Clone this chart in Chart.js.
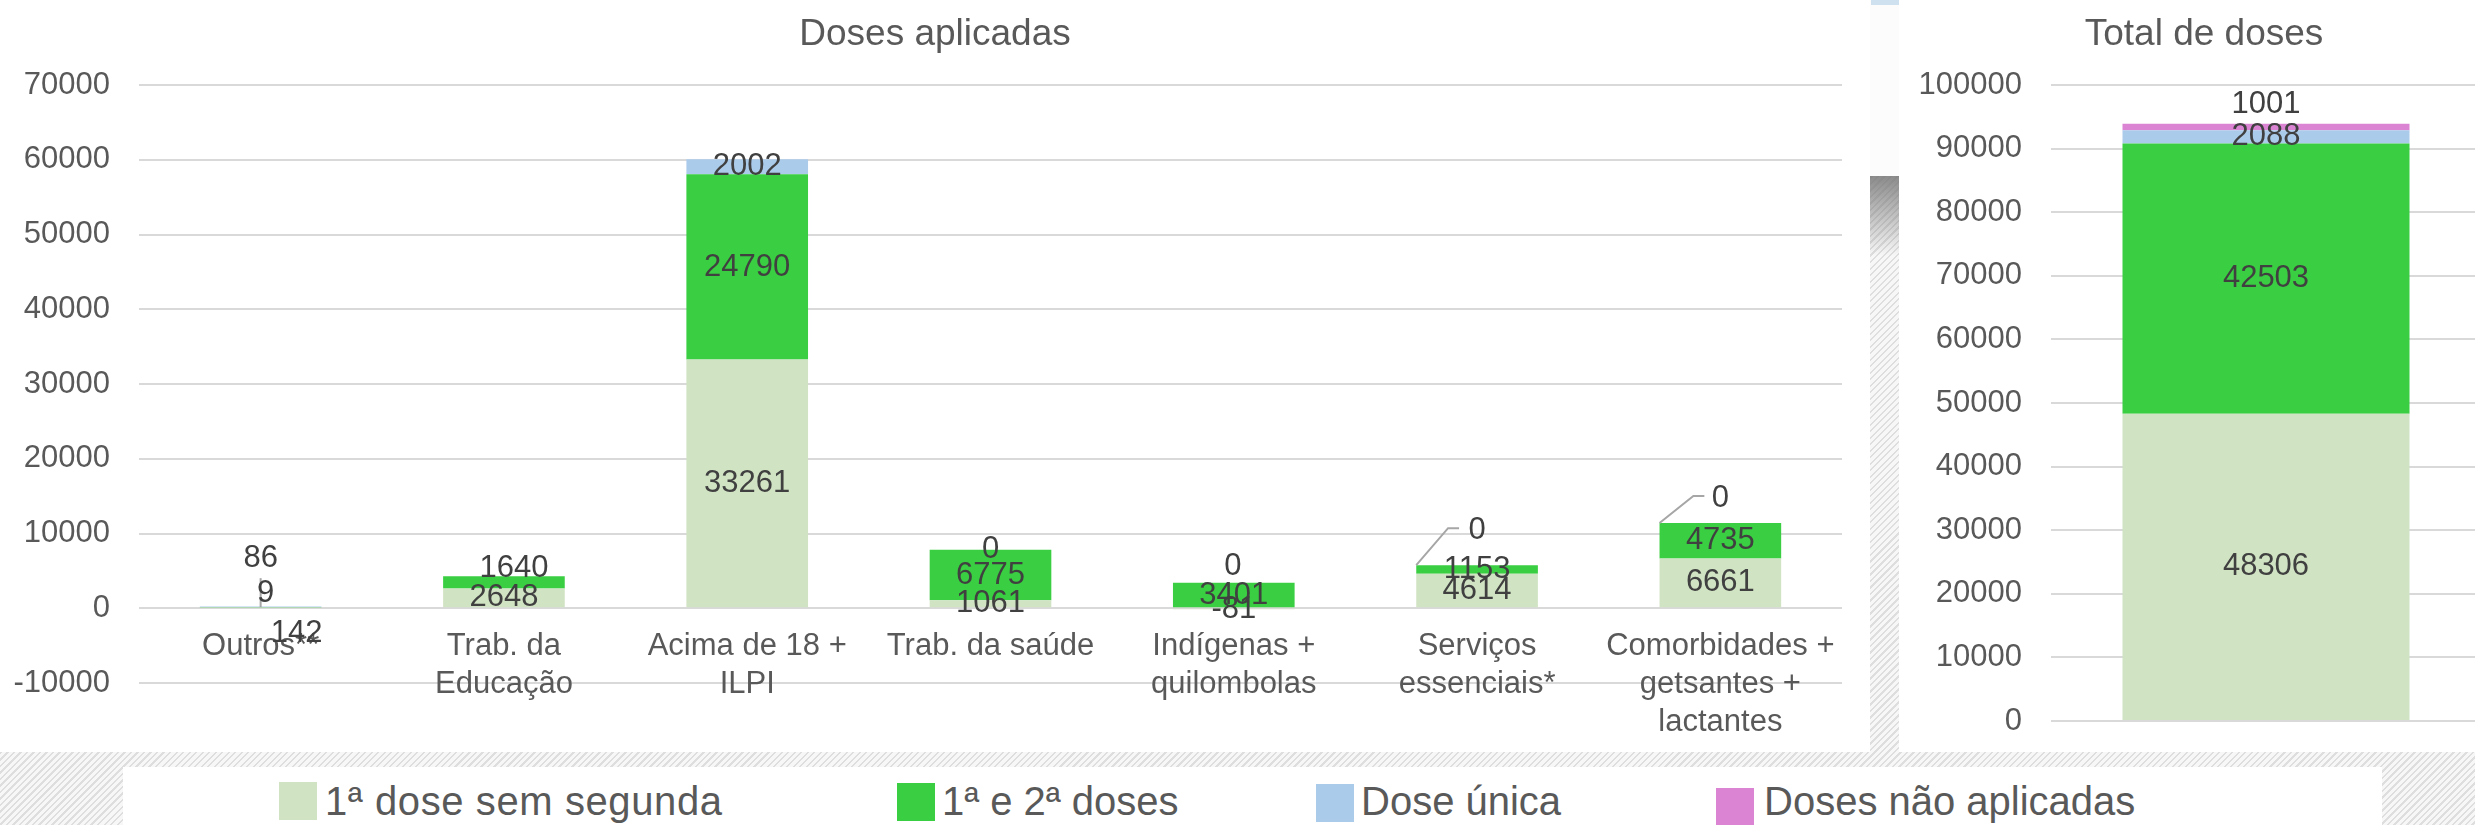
<!DOCTYPE html>
<html>
<head>
<meta charset="utf-8">
<script src="https://cdn.jsdelivr.net/npm/chart.js@4.4.1/dist/chart.umd.min.js"></script>
<style>
html,body{margin:0;padding:0;}
body{width:2475px;height:825px;overflow:hidden;position:relative;
  background:repeating-linear-gradient(135deg,#f7f7f7 0px,#f7f7f7 3px,#dedede 3px,#dedede 4.6px);
  font-family:"Liberation Sans",Arial,sans-serif;}
.panel{position:absolute;background:#ffffff;}
canvas{position:absolute;top:0;}
.lg-sq{position:absolute;width:38px;height:38px;}
.lg-tx{position:absolute;font-size:40px;line-height:40px;color:#595959;white-space:nowrap;}
</style>
</head>
<body>
<div class="panel" style="left:0;top:0;width:1870px;height:752px;"></div>
<div class="panel" style="left:1899px;top:0;width:576px;height:752px;"></div>
<div class="panel" style="left:1870px;top:0;width:29px;height:176px;background:#fcfcfc;"></div>
<div class="panel" style="left:1871px;top:0;width:28px;height:5px;background:#cfe0ee;"></div>
<div class="panel" style="left:1870px;top:176px;width:29px;height:80px;background:linear-gradient(to bottom,rgba(120,120,120,0.85),rgba(120,120,120,0));"></div>
<div class="panel" style="left:123px;top:767px;width:2259px;height:58px;"></div>
<canvas id="left" width="1870" height="752" style="left:0;"></canvas>
<canvas id="right" width="582" height="752" style="left:1899px;"></canvas>
<div id="legend"></div>
<script>
// ---------- data ----------
const categories = [
  ["Outros**"],
  ["Trab. da", "Educação"],
  ["Acima de 18 +", "ILPI"],
  ["Trab. da saúde"],
  ["Indígenas +", "quilombolas"],
  ["Serviços", "essenciais*"],
  ["Comorbidades +", "getsantes +", "lactantes"]
];
const seriesNames = ["1ª dose sem segunda", "1ª e 2ª doses", "Dose única", "Doses não aplicadas"];
const primeiraSemSegunda = [142, 2648, 33261, 1061, -81, 4614, 6661];
const primeiraESegunda   = [9, 1640, 24790, 6775, 3401, 1153, 4735];
const doseUnica          = [86, null, 2002, null, null, null, null];
const dosesNaoAplicadas  = [null, null, null, 0, 0, 0, 0];

const totalCategory = ["Total"];
const totalPrimeiraSemSegunda = [48306];
const totalPrimeiraESegunda   = [42503];
const totalDoseUnica          = [2088];
const totalNaoAplicadas       = [1001];

const leftTitle = "Doses aplicadas";
const rightTitle = "Total de doses";
const leftAxis = { min: -10000, max: 70000, step: 10000 };
const rightAxis = { min: 0, max: 100000, step: 10000 };

// ---------- styles ----------
const seriesColors = ["#d0e3c3", "#3acf42", "#abcbeb", "#dc84d4"];
const FONT = '"Liberation Sans", Arial, sans-serif';
const TEXT = "#595959";
const LABEL = "#404040";
const GRID = "#d9d9d9";

Chart.defaults.font.family = FONT;
Chart.defaults.color = TEXT;

// data label plugin: centred in each stacked segment, with optional nudges/leaders
const segLabels = {
  id: "segLabels",
  afterDatasetsDraw(chart, args, opts) {
    const ctx = chart.ctx;
    const nudges = opts.nudges || {};
    ctx.save();
    ctx.font = "31px " + FONT;
    ctx.textAlign = "center";
    ctx.textBaseline = "middle";
    chart.data.datasets.forEach((ds, di) => {
      const meta = chart.getDatasetMeta(di);
      meta.data.forEach((el, i) => {
        const v = ds.data[i];
        if (v === null || v === undefined) return;
        const n = nudges[di + ":" + i] || {};
        const cx = el.x + (n.dx || 0);
        const cy = (el.y + el.base) / 2 + (n.dy || 0);
        if (n.leader) {
          ctx.strokeStyle = "#a6a6a6";
          ctx.lineWidth = 2;
          ctx.beginPath();
          const sx = n.leader.from === "left" ? el.x - el.width / 2 : el.x;
          ctx.moveTo(sx, el.y);
          n.leader.pts.forEach(p => ctx.lineTo(cx + p[0], cy + p[1]));
          ctx.stroke();
        }
        ctx.fillStyle = LABEL;
        ctx.fillText(String(v), cx, cy);
      });
    });
    ctx.restore();
  }
};

function makeDatasets(arrays) {
  return arrays.map((arr, k) => ({
    label: seriesNames[k],
    data: arr,
    backgroundColor: seriesColors[k],
    borderWidth: 0
  }));
}

function noLabelClip(s) { s._computeLabelArea = () => undefined; }

function yScale(range, width) {
  return {
    stacked: true,
    min: range.min,
    max: range.max,
    ticks: { stepSize: range.step, padding: 29, color: TEXT, font: { size: 31 },
             callback: (v) => String(v) },
    grid: { color: GRID, lineWidth: 2, drawTicks: false },
    border: { display: false },
    afterFit(s) { s.width = width; s.paddingTop = 0; s.paddingBottom = 0; noLabelClip(s); }
  };
}

function titleOpts(text) {
  return {
    display: true,
    text: text,
    color: TEXT,
    font: { size: 37, weight: "normal", lineHeight: 1.2 },
    padding: { top: 11.5, bottom: 28.1 }
  };
}

new Chart(document.getElementById("left"), {
  type: "bar",
  data: {
    labels: categories,
    datasets: makeDatasets([primeiraSemSegunda, primeiraESegunda, doseUnica, dosesNaoAplicadas])
  },
  options: {
    responsive: false,
    animation: false,
    devicePixelRatio: 1,
    layout: { padding: { left: 28, right: 28, top: 1, bottom: 0 } },
    datasets: { bar: { categoryPercentage: 0.5, barPercentage: 1 } },
    scales: {
      x: {
        stacked: true,
        grid: { display: false, drawTicks: false },
        border: { display: false },
        ticks: { padding: -56, color: TEXT, font: { size: 31, lineHeight: 38 / 31 },
                 maxRotation: 0, minRotation: 0, autoSkip: false },
        afterFit(s) { s.height = 69; noLabelClip(s); }
      },
      y: yScale(leftAxis, 111)
    },
    plugins: {
      legend: { display: false },
      tooltip: { enabled: false },
      title: titleOpts(leftTitle),
      segLabels: {
        nudges: {
          "0:0": { dx: 36, dy: 26 },
          "1:0": { dx: 5, dy: -14, leader: { from: "center", pts: [[-5, -15]] } },
          "2:0": { dx: 0, dy: -48 },
          "1:1": { dx: 10, dy: -14 },
          "3:4": { dx: -1, dy: -42 },
          "3:5": { dy: -35, leader: { from: "left", pts: [[-29, -2], [-18, -2]] } },
          "3:6": { dy: -25, leader: { from: "left", pts: [[-27, -2], [-16, -2]] } }
        }
      }
    }
  },
  plugins: [segLabels]
});

new Chart(document.getElementById("right"), {
  type: "bar",
  data: {
    labels: totalCategory,
    datasets: makeDatasets([totalPrimeiraSemSegunda, totalPrimeiraESegunda, totalDoseUnica, totalNaoAplicadas])
  },
  options: {
    responsive: false,
    animation: false,
    devicePixelRatio: 1,
    layout: { padding: { left: 28, right: 0, top: 1, bottom: 31 } },
    datasets: { bar: { categoryPercentage: 1, barPercentage: 287 / 430 } },
    scales: {
      x: { stacked: true, display: false },
      y: yScale(rightAxis, 124)
    },
    plugins: {
      legend: { display: false },
      tooltip: { enabled: false },
      title: titleOpts(rightTitle),
      segLabels: { nudges: { "3:0": { dy: -23 } } }
    }
  },
  plugins: [segLabels]
});

// ---------- legend (HTML, below both charts) ----------
const legendLayout = [
  { sq: [279, 782], tx: 325, ls: 0.6 },
  { sq: [897, 783], tx: 942, ls: 0 },
  { sq: [1316, 784], tx: 1361, ls: 0 },
  { sq: [1716, 788], tx: 1764, ls: 0 }
];
const lg = document.getElementById("legend");
seriesNames.forEach((name, k) => {
  const L = legendLayout[k];
  const sq = document.createElement("div");
  sq.className = "lg-sq";
  sq.style.left = L.sq[0] + "px";
  sq.style.top = L.sq[1] + "px";
  sq.style.background = seriesColors[k];
  lg.appendChild(sq);
  const tx = document.createElement("div");
  tx.className = "lg-tx";
  tx.style.left = L.tx + "px";
  tx.style.top = "781px";
  tx.style.letterSpacing = L.ls + "px";
  tx.textContent = name;
  lg.appendChild(tx);
});
</script>
</body>
</html>
